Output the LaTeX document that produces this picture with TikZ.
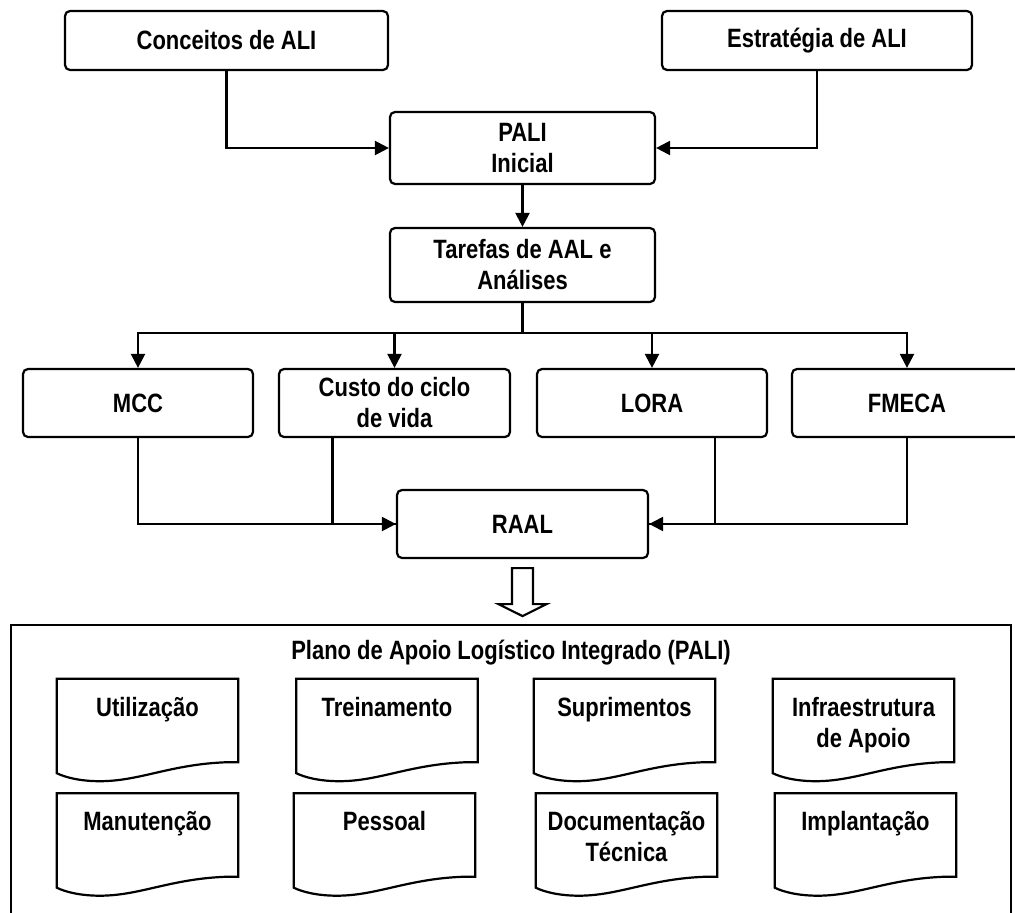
\documentclass[tikz,border=0pt]{standalone}
\usepackage{fontspec}
\setmainfont{Liberation Sans}[FakeStretch=0.83]
\usetikzlibrary{arrows.meta,calc}
\newcommand\boxfont{\fontsize{26.5}{31}\selectfont\bfseries}
\tikzset{
  box/.style={draw, rounded corners=5pt, line width=2.2pt, align=center,
    font=\boxfont, inner sep=0pt},
  docnode/.style={minimum width=181pt, minimum height=102pt, inner sep=0pt},
  doctext/.style={align=center, font=\boxfont, anchor=north, inner sep=0pt, yshift=-18pt},
  docline/.style={line width=2.2pt, line join=miter},
  flow/.style={-{Triangle[length=14pt,width=14pt]}, line width=2.2pt},
  link/.style={line width=2.2pt},
}
\begin{document}
\begin{tikzpicture}[x=1pt, y=-1pt]
  \useasboundingbox (0,0) rectangle (1015,913);
  % upper chain
  \node[box, minimum width=323pt, minimum height=59pt] (concepts) at (226.5,40.5) {Conceitos de ALI};
  \node[box, minimum width=310pt, minimum height=59pt] (strategy) at (817,40.5) {Estratégia de ALI};
  \node[box, minimum width=265pt, minimum height=72pt] (pali) at (522.5,148) {PALI\\Inicial};
  \node[box, minimum width=265pt, minimum height=74pt] (tasks) at (522.5,265) {Tarefas de AAL e\\Análises};
  \draw[flow] (concepts.south) |- (pali.west);
  \draw[flow] (strategy.south) |- (pali.east);
  \draw[flow] (pali.south) -- (tasks.north);
  % analyses
  \node[box, minimum width=230pt, minimum height=68pt] (mcc)   at (138,403)   {MCC};
  \node[box, minimum width=231pt, minimum height=68pt] (lcc)   at (394.5,403) {Custo do ciclo\\de vida};
  \node[box, minimum width=230pt, minimum height=68pt] (lora)  at (652,403)   {LORA};
  \node[box, minimum width=230pt, minimum height=68pt] (fmeca) at (907,403)   {FMECA};
  \node[box, minimum width=251pt, minimum height=68pt] (raal)  at (522.5,524) {RAAL};
  \coordinate (bus) at (522.5,333);
  \draw[link] (tasks.south) -- (bus);
  \foreach \n in {mcc,lcc,lora,fmeca}
    \draw[flow] (bus) -| (\n.north);
  \draw[flow] (mcc.south) |- (raal.west);
  \draw[link] ($(lcc.south)+(-62,0)$) |- (raal.west);
  \draw[flow] (fmeca.south) |- (raal.east);
  \draw[link] ($(lora.south)+(63,0)$) |- (raal.east);
  % hollow arrow
  \draw[link, line join=miter] ($(raal.south)+(-10.5,9)$) -- ($(raal.south)+(10.5,9)$)
    -- ($(raal.south)+(10.5,45)$) -- ($(raal.south)+(24,45)$) -- ($(raal.south)+(0,57)$)
    -- ($(raal.south)+(-24,45)$) -- ($(raal.south)+(-10.5,45)$) -- cycle;
  % plan frame
  \draw[link] (11,925) -- (11,625) -- (1011,625) -- (1011,925);
  \node[font=\boxfont] (plan) at (511,653) {Plano de Apoio Logístico Integrado (PALI)};
  \foreach \id/\cx/\cy/\txt in {util/147.5/730/Utilização, train/387/730/Treinamento,
      supply/624.5/730/Suprimentos, infra/863.5/730/Infraestrutura\\de Apoio,
      maint/147.5/844.5/Manutenção, staff/384.5/844.5/Pessoal,
      docs/626.5/844.5/Documentação\\Técnica, deploy/865.5/844.5/Implantação} {
    \node[docnode, label={[doctext]north:\txt}] (\id) at (\cx,\cy) {};
    \draw[docline] (\id.north west) -- (\id.north east) -- ($(\id.south east)+(0,-19)$)
      -- ($(\id.south east)+(-11,-19)$)
      .. controls ($(\id.south east)+(-68,-17)$) and ($(\id.south east)+(-98,0)$) .. ($(\id.south west)+(43,0)$)
      .. controls ($(\id.south west)+(23,0)$) and ($(\id.south west)+(8,-4)$) .. ($(\id.south west)+(0,-8)$)
      -- cycle;
  }
\end{tikzpicture}
\end{document}
